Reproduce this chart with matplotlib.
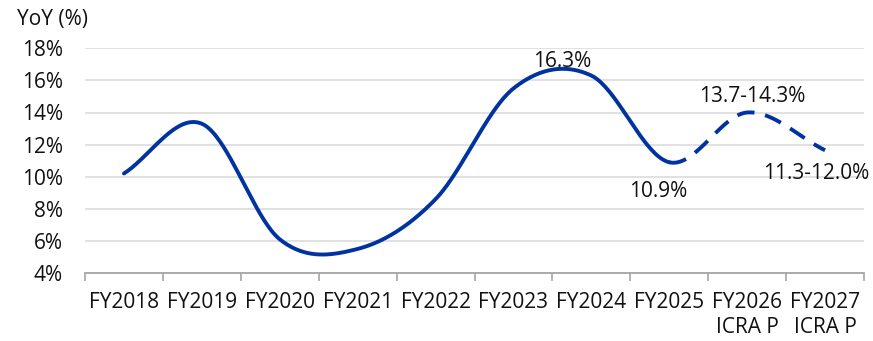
import numpy as np
import matplotlib
matplotlib.use("Agg")
import matplotlib.pyplot as plt

categories = ["FY2018", "FY2019", "FY2020", "FY2021", "FY2022", "FY2023",
              "FY2024", "FY2025", "FY2026\nICRA P", "FY2027\nICRA P"]
values = [10.2, 13.3, 6.1, 5.5, 8.6, 15.5, 16.3, 10.9, 14.0, 11.65]
projection_start = 7  # index from which the line is dashed (FY2025 -> FY2027)
labels = {6: "16.3%", 7: "10.9%", 8: "13.7-14.3%", 9: "11.3-12.0%"}

plt.rcParams['font.family'] = ['Open Sans', 'DejaVu Sans']

LINE = "#0033a0"
GRID = "#d9d9d9"
AXIS = "#a6a6a6"
TXT = "#111111"
FS = 15


def smooth(xs, ys, n=40):
    """Catmull-Rom spline through the points (Excel-like smoothed line)."""
    xs = np.asarray(xs, float)
    ys = np.asarray(ys, float)
    m = np.zeros_like(ys)
    m[1:-1] = (ys[2:] - ys[:-2]) / 2.0
    m[0] = ys[1] - ys[0]
    m[-1] = ys[-1] - ys[-2]
    ox, oy = [], []
    for i in range(len(xs) - 1):
        t = np.linspace(0, 1, n, endpoint=(i == len(xs) - 2))
        h00 = 2 * t**3 - 3 * t**2 + 1
        h10 = t**3 - 2 * t**2 + t
        h01 = -2 * t**3 + 3 * t**2
        h11 = t**3 - t**2
        oy.append(h00 * ys[i] + h10 * m[i] + h01 * ys[i + 1] + h11 * m[i + 1])
        ox.append(xs[i] + t * (xs[i + 1] - xs[i]))
    return np.concatenate(ox), np.concatenate(oy)


fig = plt.figure(figsize=(8.73, 3.41), dpi=100)
ax = fig.add_axes([85 / 873, 1 - 273 / 341, (864 - 85) / 873, (273 - 48.3) / 341])

x = np.arange(len(categories))
sx, sy = smooth(x, values)
solid = sx <= projection_start
dashed = sx >= projection_start
ax.plot(sx[solid], sy[solid], color=LINE, lw=2.8, solid_capstyle='round', zorder=3)
ln, = ax.plot(sx[dashed], sy[dashed], color=LINE, lw=2.8, dash_capstyle='butt', zorder=3)
ln.set_dashes([4.5, 2.8])

ax.set_xlim(-0.5, len(categories) - 0.5)
ax.set_ylim(4, 18)
ax.set_yticks(np.arange(4, 19, 2))
ax.set_yticklabels([f"{v}%" for v in range(4, 19, 2)])
ax.set_xticks(x)
ax.set_xticklabels(categories)
ax.set_xticks(np.arange(-0.5, len(categories), 1), minor=True)
ax.tick_params(axis='x', which='major', length=0, pad=14, labelsize=FS, colors=TXT)
ax.tick_params(axis='x', which='minor', length=6, width=1.2, color=AXIS, direction='out')
ax.tick_params(axis='y', length=0, pad=16, labelsize=FS, colors=TXT)
for lab in ax.get_xticklabels():
    lab.set_linespacing(1.2)

ax.grid(axis='y', color=GRID, lw=1.1)
ax.set_axisbelow(True)
for s in ['left', 'right', 'top']:
    ax.spines[s].set_visible(False)
ax.spines['bottom'].set_color(AXIS)
ax.spines['bottom'].set_linewidth(1.3)

label_pos = {6: (-0.38, 0.9), 7: (-0.14, -1.8), 8: (0.07, 1.0), 9: (-0.12, -1.45)}
for i, txt in labels.items():
    dx, dy = label_pos[i]
    ax.text(i + dx, values[i] + dy, txt, ha='center', va='center', fontsize=FS, color=TXT, zorder=4)

fig.text(17 / 873, 1 - 19 / 341, "YoY (%)", ha='left', va='center', fontsize=FS, color=TXT)

fig.savefig("out.png", dpi=100)
